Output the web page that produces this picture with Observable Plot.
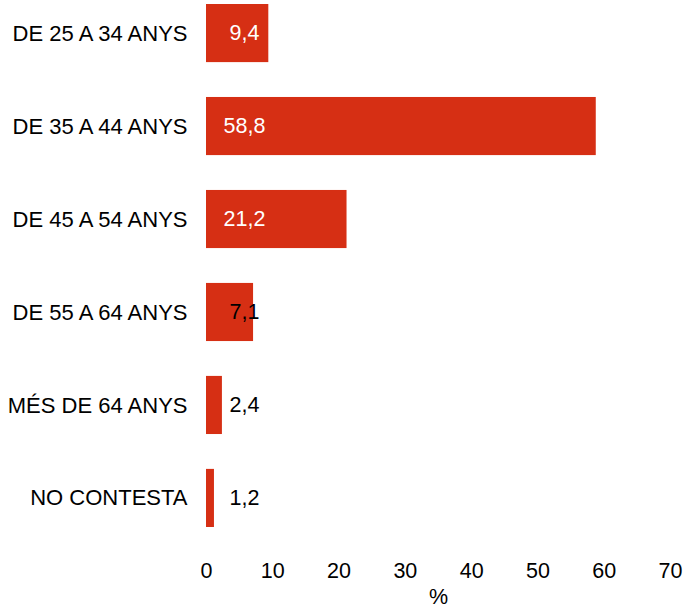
<!DOCTYPE html>
<html>
<head>
<meta charset="utf-8">
<script src="https://cdn.jsdelivr.net/npm/d3@7"></script>
<script src="https://cdn.jsdelivr.net/npm/@observablehq/plot@0.6"></script>
<style>
  html, body { margin: 0; padding: 0; background: #fff; }
  #chart svg { display: block; }
</style>
</head>
<body>
<div id="chart"></div>
<script>
const categories = ["DE 25 A 34 ANYS", "DE 35 A 44 ANYS", "DE 45 A 54 ANYS", "DE 55 A 64 ANYS", "MÉS DE 64 ANYS", "NO CONTESTA"];
const values = [9.4, 58.8, 21.2, 7.1, 2.4, 1.2];
const xTicks = [0, 10, 20, 30, 40, 50, 60, 70];
const xLabel = "%";

const data = categories.map((c, i) => ({category: c, value: values[i]}));
const fmt = v => v.toFixed(1).replace(".", ",");

const chart = Plot.plot({
  width: 685,
  height: 613,
  marginLeft: 206,
  marginRight: 15,
  marginTop: 4,
  marginBottom: 86,
  style: {fontFamily: "'Liberation Sans', Arial, sans-serif", fontSize: "21.5px", color: "#000", background: "#fff"},
  x: {domain: [0, 70]},
  y: {domain: categories, paddingInner: 0.375, paddingOuter: 0, round: false},
  marks: [
    Plot.barX(data, {x: "value", y: "category", fill: "#d62f14"}),
    Plot.text(data, {
      x: 0, y: "category", text: d => fmt(d.value),
      dx: 38, textAnchor: "middle",
      fill: d => d.value > 8 ? "#ffffff" : "#000000",
      fontSize: 21.5
    }),
    Plot.axisY({tickSize: 0, tickPadding: 19, label: null, fontSize: 22}),
    Plot.axisX({ticks: xTicks, tickSize: 0, tickPadding: 35, tickFormat: d => String(d), fontSize: 21.5,
      label: xLabel, labelAnchor: "center", labelArrow: "none", labelOffset: 76})
  ]
});
document.getElementById("chart").appendChild(chart);
</script>
</body>
</html>
